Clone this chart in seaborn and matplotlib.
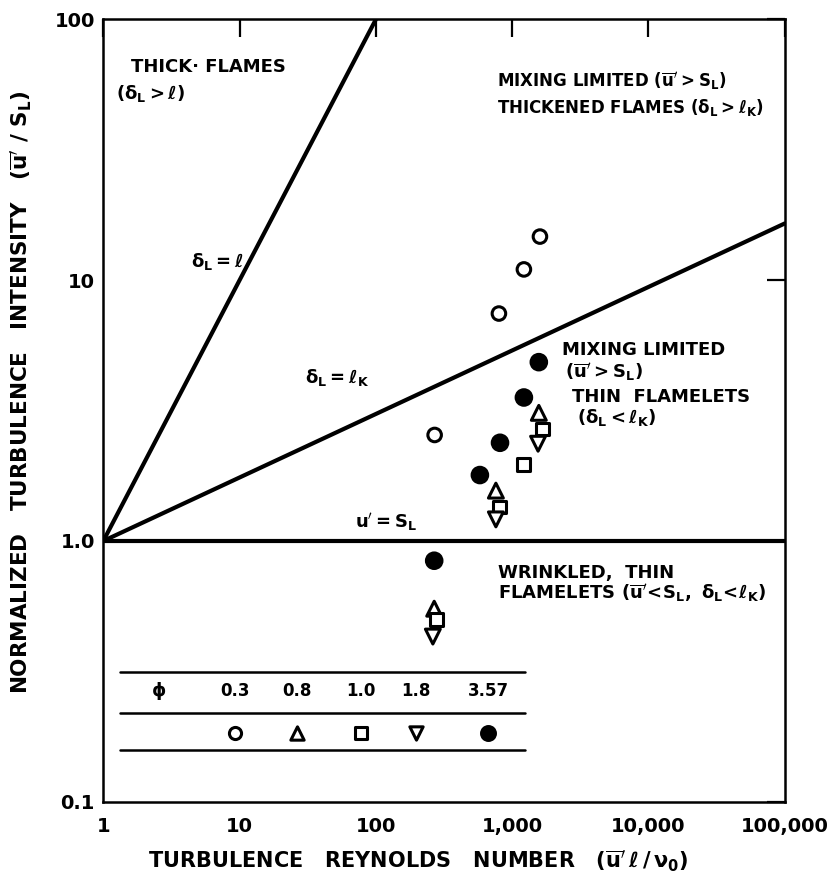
import matplotlib
matplotlib.use("Agg")
import matplotlib.pyplot as plt
import seaborn as sns
import pandas as pd

# Measured turbulence data, grouped by equivalence ratio phi
phi_labels = ["0.3", "0.8", "1.0", "1.8", "3.57"]

re_phi03 = [270, 800, 1220, 1600]
ui_phi03 = [2.55, 7.45, 11.0, 14.7]

re_phi08 = [268, 760, 1570]
ui_phi08 = [0.55, 1.56, 3.1]

re_phi10 = [280, 810, 1220, 1680]
ui_phi10 = [0.50, 1.35, 1.97, 2.69]

re_phi18 = [262, 760, 1550]
ui_phi18 = [0.43, 1.21, 2.36]

re_phi357 = [268, 580, 815, 1220, 1570]
ui_phi357 = [0.84, 1.79, 2.38, 3.55, 4.85]

# Regime boundaries
bound_thick_re = [1, 100]
bound_thick_ui = [1, 100]
bound_kolm_re = [1, 100000]
bound_kolm_ui = [1, 16.5]
bound_us_re = [1, 100000]
bound_us_ui = [1, 1]

x_ticks = [1, 10, 100, 1000, 10000, 100000]
x_ticklabels = ["1", "10", "100", "1,000", "10,000", "100,000"]
y_ticks = [0.1, 1, 10, 100]
y_ticklabels = ["0.1", "1.0", "10", "100"]

sns.set_theme(style="white")
plt.rcParams["font.family"] = ["DejaVu Sans"]
plt.rcParams["font.weight"] = "bold"
plt.rcParams["mathtext.fontset"] = "dejavusans"
plt.rcParams["mathtext.default"] = "bf"
plt.rcParams["text.color"] = "black"
plt.rcParams["axes.labelcolor"] = "black"
plt.rcParams["xtick.color"] = "black"
plt.rcParams["ytick.color"] = "black"

frames = []
for lab, xs, ys in [("0.3", re_phi03, ui_phi03), ("0.8", re_phi08, ui_phi08),
                    ("1.0", re_phi10, ui_phi10), ("1.8", re_phi18, ui_phi18),
                    ("3.57", re_phi357, ui_phi357)]:
    frames.append(pd.DataFrame({"re": xs, "ui": ys, "phi": lab}))
data = pd.concat(frames, ignore_index=True)

markers = {"0.3": "o", "0.8": "^", "1.0": "s", "1.8": "v", "3.57": "o"}
faces = {"0.3": "white", "0.8": "white", "1.0": "white", "1.8": "white", "3.57": "black"}
sizes = {"0.3": 95, "0.8": 115, "1.0": 85, "1.8": 115, "3.57": 125}

fig = plt.figure(figsize=(8.33, 8.83), dpi=100)
ax = fig.add_axes([0.124, 0.092, 0.818, 0.886])
ax.set_xscale("log")
ax.set_yscale("log")

lw = 3.0
for xs, ys in [(bound_thick_re, bound_thick_ui), (bound_kolm_re, bound_kolm_ui),
               (bound_us_re, bound_us_ui)]:
    sns.lineplot(x=xs, y=ys, ax=ax, color="black", linewidth=lw, sort=False,
                 estimator=None)

sns.scatterplot(data=data, x="re", y="ui", hue="phi", style="phi", size="phi",
                markers=markers, palette=faces, sizes=sizes,
                hue_order=phi_labels, style_order=phi_labels, size_order=phi_labels,
                edgecolor="black", linewidth=2.2, legend=False, ax=ax, zorder=5)

ax.set_xlim(1, 100000)
ax.set_ylim(0.1, 100)
ax.set_xticks(x_ticks)
ax.set_xticklabels(x_ticklabels)
ax.set_yticks(y_ticks)
ax.set_yticklabels(y_ticklabels)
ax.minorticks_off()
ax.tick_params(axis="both", which="major", direction="in", length=13, width=1.6,
               top=True, right=True, labelsize=14, colors="black")
ax.tick_params(axis="x", pad=11)
ax.tick_params(axis="y", pad=6)
for lbl in ax.get_xticklabels() + ax.get_yticklabels():
    lbl.set_fontweight("bold")
for sp in ax.spines.values():
    sp.set_linewidth(1.8)
    sp.set_color("black")
ax.set_xlabel("")
ax.set_ylabel("")

fs = 13
T = ax.transAxes
ax.text(0.040, 0.939, "THICK\u00b7 FLAMES", transform=T, fontsize=fs, va="center", ha="left")
ax.text(0.019, 0.905, r"($\delta_L > \ell$)", transform=T, fontsize=fs, va="center", ha="left")
ax.text(0.128, 0.691, r"$\delta_L = \ell$", transform=T, fontsize=fs, va="center", ha="left")
ax.text(0.578, 0.921, r"MIXING LIMITED ($\overline{u}' > S_L$)", transform=T, fontsize=12,
        va="center", ha="left")
ax.text(0.578, 0.887, r"THICKENED FLAMES ($\delta_L > \ell_K$)", transform=T, fontsize=12,
        va="center", ha="left")
ax.text(0.296, 0.542, r"$\delta_L = \ell_K$", transform=T, fontsize=fs, va="center", ha="left")
ax.text(0.673, 0.578, "MIXING LIMITED", transform=T, fontsize=fs, va="center", ha="left")
ax.text(0.677, 0.549, r"($\overline{u}' > S_L$)", transform=T, fontsize=fs, va="center", ha="left")
ax.text(0.688, 0.518, "THIN  FLAMELETS", transform=T, fontsize=fs, va="center", ha="left")
ax.text(0.695, 0.491, r"($\delta_L < \ell_K$)", transform=T, fontsize=fs, va="center", ha="left")
ax.text(0.370, 0.357, r"$u' = S_L$", transform=T, fontsize=fs, va="center", ha="left")
ax.text(0.579, 0.293, "WRINKLED,  THIN", transform=T, fontsize=fs, va="center", ha="left")
ax.text(0.579, 0.266, r"FLAMELETS ($\overline{u}'\!<\!S_L,\ \delta_L\!<\!\ell_K$)", transform=T,
        fontsize=fs, va="center", ha="left")

# Symbol key table
for yy in [0.166, 0.114, 0.0665]:
    ax.plot([0.025, 0.619], [yy, yy], transform=T, color="black", linewidth=1.8)
ax.text(0.081, 0.141, r"$\phi$", transform=T, fontsize=13, va="center", ha="center")
col_x = [0.194, 0.284, 0.378, 0.459, 0.565]
for cx, lab in zip(col_x, phi_labels):
    ax.text(cx, 0.141, lab, transform=T, fontsize=12, va="center", ha="center")
    ax.scatter([cx], [0.088], transform=T, marker=markers[lab], s=sizes[lab] * 0.8,
               facecolor=faces[lab], edgecolor="black", linewidth=2.2, zorder=5,
               clip_on=False)

fig.text(0.026, 0.556,
         r"NORMALIZED   TURBULENCE   INTENSITY   ($\overline{u}'$ / $S_L$)",
         rotation=90, fontsize=15.5, ha="center", va="center", fontweight="bold")
fig.text(0.502, 0.024,
         r"TURBULENCE   REYNOLDS   NUMBER   ($\overline{u}'\,\ell\,/\,\nu_0$)",
         fontsize=15, ha="center", va="center", fontweight="bold")

fig.savefig("out.png", dpi=100)
